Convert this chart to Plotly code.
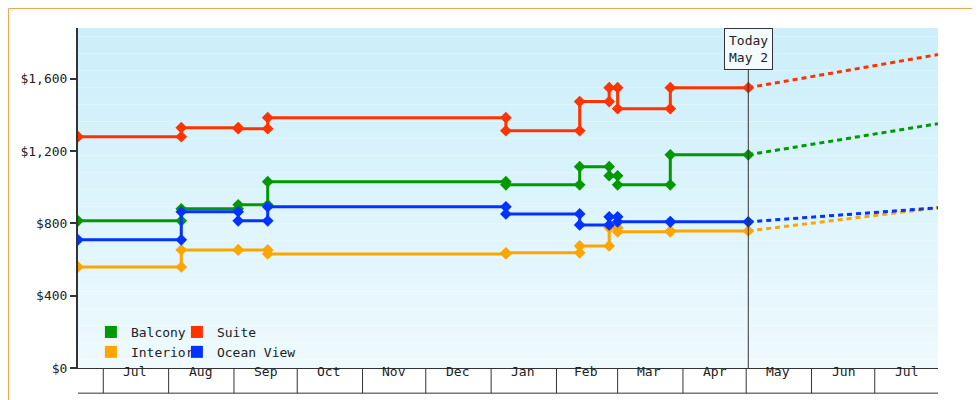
import plotly.graph_objs as go

# step dates (each change date appears twice: old value, new value)
dates = ["2023-06-19", "2023-08-07", "2023-08-07", "2023-09-03", "2023-09-03", "2023-09-17", "2023-09-17",
         "2024-01-08", "2024-01-08", "2024-02-12", "2024-02-12", "2024-02-26", "2024-02-26",
         "2024-03-01", "2024-03-01", "2024-03-26", "2024-03-26", "2024-05-02"]

balcony = [814, 814, 880, 880, 902, 902, 1030, 1030, 1013, 1013, 1113, 1113, 1063, 1063, 1013, 1013, 1179, 1179]
suite = [1279, 1279, 1329, 1329, 1323, 1323, 1384, 1384, 1312, 1312, 1473, 1473, 1550, 1550, 1434, 1434, 1550, 1550]
ocean = [709, 709, 864, 864, 814, 814, 891, 891, 852, 852, 791, 791, 836, 836, 808, 808, 808, 808]
interior = [559, 559, 653, 653, 653, 653, 631, 631, 637, 637, 675, 675, 775, 775, 753, 753, 758, 758]

forecast_dates = ["2024-05-02", "2024-07-31"]
forecast = {"Balcony": [1179, 1351], "Suite": [1550, 1733],
            "Ocean View": [808, 886], "Interior": [758, 886]}

months = ["Jul", "Aug", "Sep", "Oct", "Nov", "Dec", "Jan", "Feb", "Mar", "Apr", "May", "Jun", "Jul"]
month_starts = ["2023-07-01", "2023-08-01", "2023-09-01", "2023-10-01", "2023-11-01", "2023-12-01",
                "2024-01-01", "2024-02-01", "2024-03-01", "2024-04-01", "2024-05-01", "2024-06-01",
                "2024-07-01"]
month_mids = ["2023-07-16", "2023-08-16", "2023-09-16", "2023-10-16", "2023-11-16", "2023-12-16",
              "2024-01-16", "2024-02-15", "2024-03-16", "2024-04-16", "2024-05-16", "2024-06-16",
              "2024-07-16"]

series = [("Balcony", balcony, "#009900", "legend"), ("Interior", interior, "#ffa500", "legend"),
          ("Suite", suite, "#ff3300", "legend2"), ("Ocean View", ocean, "#0033ff", "legend2")]

fig = go.Figure()

# background gradient
n = 40
shapes = []
for i in range(n):
    t = i / (n - 1)
    r = int(238 + (204 - 238) * t)
    g = int(250 + (239 - 250) * t)
    b = int(254 + (251 - 254) * t)
    shapes.append(dict(type="rect", xref="paper", yref="paper", x0=0, x1=1, y0=i / n, y1=(i + 1) / n,
                       fillcolor=f"rgb({r},{g},{b})", line_width=0, layer="below"))

for name, vals, col, lg in series:
    fig.add_trace(go.Scatter(x=dates, y=vals, mode="lines+markers", line=dict(color=col, width=3),
                             marker=dict(symbol="diamond", size=9, color=col), showlegend=False))
    fig.add_trace(go.Scatter(x=forecast_dates, y=forecast[name], mode="lines",
                             line=dict(color=col, width=3, dash="5px,4px"), showlegend=False))
    fig.add_trace(go.Scatter(x=[None], y=[None], mode="markers", name=name, legend=lg,
                             marker=dict(symbol="square", size=12, color=col)))

# today line
shapes.append(dict(type="line", xref="x", yref="paper", x0="2024-05-02", x1="2024-05-02", y0=0, y1=0.88,
                   line=dict(color="#333", width=1)))
# month separators and bottom strip
for d in month_starts:
    shapes.append(dict(type="line", xref="x", yref="paper", x0=d, x1=d, y0=0, y1=-0.074,
                       line=dict(color="#333", width=1)))
shapes.append(dict(type="line", xref="paper", yref="paper", x0=0, x1=1, y0=-0.074, y1=-0.074,
                   line=dict(color="#333", width=1)))
# orange border
shapes.append(dict(type="rect", xref="paper", yref="paper", x0=-69.5 / 860, x1=1 + 49 / 860,
                   y0=-39 / 340, y1=1 + 19.5 / 340, line=dict(color="#f0a850", width=1)))

annotations = [dict(x=m, y=-0.037, xref="x", yref="paper", text=lbl, showarrow=False,
                    font=dict(size=13, color="#222"))
               for m, lbl in zip(month_mids, months)]
annotations.append(dict(x="2024-05-02", y=1.0, xref="x", yref="paper", yanchor="top",
                        text="Today<br>May 2", showarrow=False, bgcolor="#f4fbfe",
                        bordercolor="#333", borderwidth=1, borderpad=4,
                        font=dict(size=13, color="#222")))

fig.update_layout(
    width=980, height=400, margin=dict(l=70, r=50, t=20, b=40, autoexpand=False),
    paper_bgcolor="white", plot_bgcolor="rgba(0,0,0,0)",
    font=dict(family="DejaVu Sans Mono", size=13, color="#222"),
    shapes=shapes, annotations=annotations,
    xaxis=dict(range=["2023-06-19", "2024-07-31"], showgrid=False, showticklabels=False,
               zeroline=False, showline=True, linecolor="#333", linewidth=1),
    yaxis=dict(range=[0, 1880], tickvals=[0, 400, 800, 1200, 1600],
               ticktext=["$0", "$400", "$800", "$1,200", "$1,600"], showgrid=False, zeroline=False,
               showline=True, linecolor="#333", linewidth=2, ticks="outside", ticklen=6,
               tickwidth=2, tickcolor="#333"),
    legend=dict(x=0.015, y=0.15, xanchor="left", yanchor="top", bgcolor="rgba(0,0,0,0)",
                font=dict(size=13), itemwidth=30, tracegroupgap=0),
    legend2=dict(x=0.115, y=0.15, xanchor="left", yanchor="top", bgcolor="rgba(0,0,0,0)",
                 font=dict(size=13), itemwidth=30, tracegroupgap=0),
)

fig.write_html("out.html")
